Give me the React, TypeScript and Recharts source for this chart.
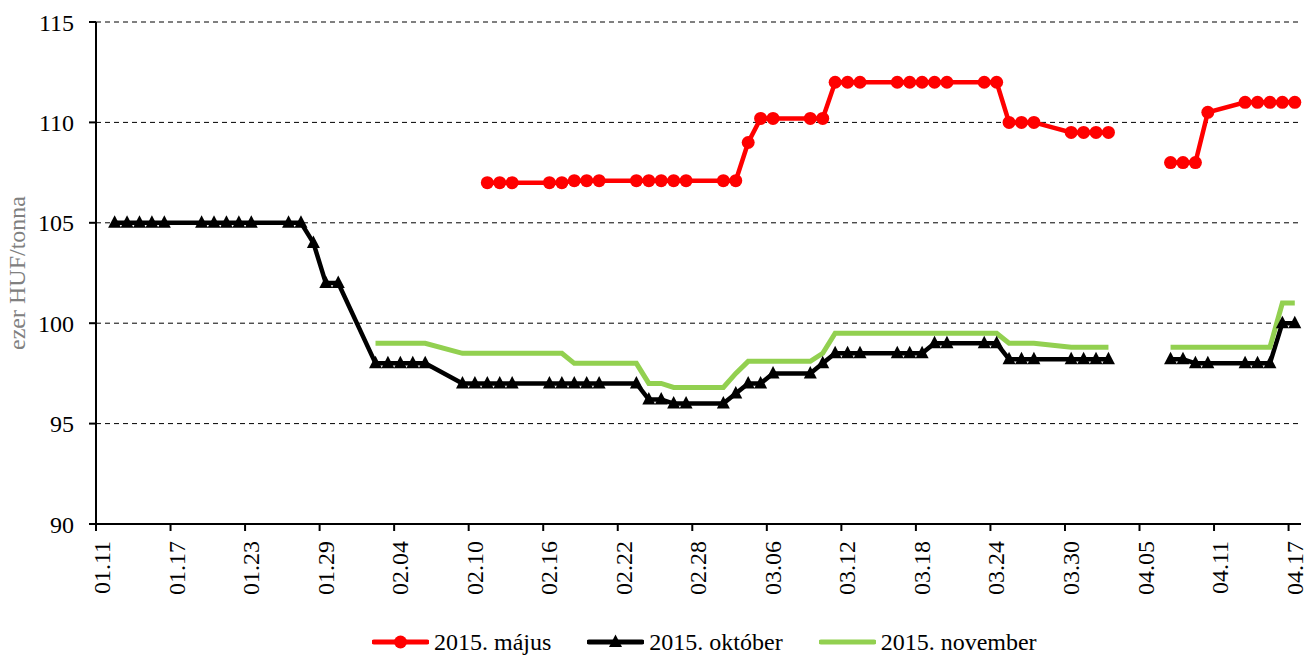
import React from 'react';
import { LineChart, Line, XAxis, YAxis, CartesianGrid, Legend } from 'recharts';

const FONT = '"Liberation Serif", "Times New Roman", serif';

// trading days (MM.DD) and their day offset from 01.11
const DATES = [
  '01.12', '01.13', '01.14', '01.15', '01.16',
  '01.19', '01.20', '01.21', '01.22', '01.23',
  '01.26', '01.27', '01.28', '01.29', '01.30',
  '02.02', '02.03', '02.04', '02.05', '02.06',
  '02.09', '02.10', '02.11', '02.12', '02.13',
  '02.16', '02.17', '02.18', '02.19', '02.20',
  '02.23', '02.24', '02.25', '02.26', '02.27',
  '03.02', '03.03', '03.04', '03.05', '03.06',
  '03.09', '03.10', '03.11', '03.12', '03.13',
  '03.16', '03.17', '03.18', '03.19', '03.20',
  '03.23', '03.24', '03.25', '03.26', '03.27',
  '03.30', '03.31', '04.01', '04.02', '04.03',
  '04.06',
  '04.07', '04.08', '04.09', '04.10',
  '04.13', '04.14', '04.15', '04.16', '04.17',
];
const DAYS = [
  1, 2, 3, 4, 5,
  8, 9, 10, 11, 12,
  15, 16, 17, 18, 19,
  22, 23, 24, 25, 26,
  29, 30, 31, 32, 33,
  36, 37, 38, 39, 40,
  43, 44, 45, 46, 47,
  50, 51, 52, 53, 54,
  57, 58, 59, 60, 61,
  64, 65, 66, 67, 68,
  71, 72, 73, 74, 75,
  78, 79, 80, 81, 82,
  85,
  86, 87, 88, 89,
  92, 93, 94, 95, 96,
];

const MAJUS = [
  null, null, null, null, null,
  null, null, null, null, null,
  null, null, null, null, null,
  null, null, null, null, null,
  null, null, 107, 107, 107,
  107, 107, 107.1, 107.1, 107.1,
  107.1, 107.1, 107.1, 107.1, 107.1,
  107.1, 107.1, 109, 110.2, 110.2,
  110.2, 110.2, 112, 112, 112,
  112, 112, 112, 112, 112,
  112, 112, 110, 110, 110,
  109.5, 109.5, 109.5, 109.5, null,
  null,
  108, 108, 108, 110.5,
  111, 111, 111, 111, 111,
];
const OKTOBER = [
  105, 105, 105, 105, 105,
  105, 105, 105, 105, 105,
  105, 105, 104, 102, 102,
  98, 98, 98, 98, 98,
  97, 97, 97, 97, 97,
  97, 97, 97, 97, 97,
  97, 96.2, 96.2, 96, 96,
  96, 96.5, 97, 97, 97.5,
  97.5, 98, 98.5, 98.5, 98.5,
  98.5, 98.5, 98.5, 99, 99,
  99, 99, 98.2, 98.2, 98.2,
  98.2, 98.2, 98.2, 98.2, null,
  null,
  98.2, 98.2, 98, 98,
  98, 98, 98, 100, 100,
];
const NOVEMBER = [
  null, null, null, null, null,
  null, null, null, null, null,
  null, null, null, null, null,
  99, 99, 99, 99, 99,
  98.5, 98.5, 98.5, 98.5, 98.5,
  98.5, 98.5, 98, 98, 98,
  98, 97, 97, 96.8, 96.8,
  96.8, 97.5, 98.1, 98.1, 98.1,
  98.1, 98.5, 99.5, 99.5, 99.5,
  99.5, 99.5, 99.5, 99.5, 99.5,
  99.5, 99.5, 99, 99, 99,
  98.8, 98.8, 98.8, 98.8, null,
  null,
  98.8, 98.8, 98.8, 98.8,
  98.8, 98.8, 98.8, 101, 101,
];

const TICK_DAYS = [0, 6, 12, 18, 24, 30, 36, 42, 48, 54, 60, 66, 72, 78, 84, 90, 96];
const TICK_LABELS = [
  '01.11', '01.17', '01.23', '01.29', '02.04', '02.10', '02.16', '02.22', '02.28',
  '03.06', '03.12', '03.18', '03.24', '03.30', '04.05', '04.11', '04.17',
];
const Y_TICKS = [90, 95, 100, 105, 110, 115];

const SERIES = [
  { key: 'majus', name: '2015. május', color: '#FF0000', marker: 'circle' },
  { key: 'oktober', name: '2015. október', color: '#000000', marker: 'triangle' },
  { key: 'november', name: '2015. november', color: '#92D050', marker: 'none' },
];

// points sit in the middle of their day
const data = DATES.map((date, i) => ({
  date,
  x: DAYS[i] + 0.5,
  majus: MAJUS[i],
  oktober: OKTOBER[i],
  november: NOVEMBER[i],
}));

const CircleDot = (props: any) => {
  const { cx, cy, index } = props;
  if (cx == null || cy == null || props.value == null) return <g key={`c-${index}`} />;
  return <circle key={`c-${index}`} cx={cx} cy={cy} r={6.5} fill="#FF0000" />;
};

const TriangleDot = (props: any) => {
  const { cx, cy, index } = props;
  if (cx == null || cy == null || props.value == null) return <g key={`t-${index}`} />;
  return (
    <path
      key={`t-${index}`}
      d={`M${cx},${cy - 7.5} L${cx + 6.5},${cy + 5} L${cx - 6.5},${cy + 5} Z`}
      fill="#000"
    />
  );
};

const XTick = (props: any) => {
  const { x, y, payload } = props;
  const i = TICK_DAYS.indexOf(payload.value);
  return (
    <text
      transform={`translate(${x + 14},${y}) rotate(-90)`}
      textAnchor="end"
      fontSize={24}
      fontFamily={FONT}
      fill="#000"
    >
      {TICK_LABELS[i]}
    </text>
  );
};

const YLabel = () => (
  <text
    transform="translate(25,273) rotate(-90)"
    textAnchor="middle"
    fontSize={24}
    fontFamily={FONT}
    fill="#808080"
  >
    ezer HUF/tonna
  </text>
);

const LegendIcon = ({ color, marker }: { color: string; marker: string }) => (
  <svg width={57} height={16} style={{ display: 'block' }}>
    <line x1={2} y1={8} x2={55} y2={8} stroke={color} strokeWidth={5} strokeLinecap="round" />
    {marker === 'circle' && <circle cx={28.5} cy={8} r={6.5} fill={color} />}
    {marker === 'triangle' && <path d="M28.5,0.5 L35,13 L22,13 Z" fill={color} />}
  </svg>
);

const renderLegend = () => (
  <div
    style={{
      display: 'flex',
      alignItems: 'center',
      height: 30,
      paddingLeft: 372,
      fontFamily: FONT,
      fontSize: 24,
      color: '#000',
    }}
  >
    {SERIES.map((s) => (
      <div key={s.key} style={{ display: 'flex', alignItems: 'center', marginRight: 36 }}>
        <LegendIcon color={s.color} marker={s.marker} />
        <span style={{ marginLeft: 5, whiteSpace: 'nowrap' }}>{s.name}</span>
      </div>
    ))}
  </div>
);

export default function App() {
  return (
    <div style={{ position: 'absolute', left: 0, top: 0, width: 1307, height: 657, background: '#fff' }}>
      <LineChart width={1307} height={657} data={data} margin={{ top: 22, right: 6, left: 0, bottom: 0 }}>
        <CartesianGrid vertical={false} stroke="#000" strokeWidth={1} strokeDasharray="5 4" />
        <XAxis
          dataKey="x"
          type="number"
          domain={[0, 97]}
          ticks={TICK_DAYS}
          interval={0}
          height={103}
          axisLine={{ stroke: '#000', strokeWidth: 2 }}
          tickLine={{ stroke: '#000', strokeWidth: 2 }}
          tickSize={7}
          tickMargin={10}
          tick={<XTick />}
        />
        <YAxis
          domain={[90, 115]}
          ticks={Y_TICKS}
          interval={0}
          width={96}
          axisLine={{ stroke: '#000', strokeWidth: 2 }}
          tickLine={{ stroke: '#000', strokeWidth: 2 }}
          tickSize={7}
          tickMargin={15}
          tick={{ fontSize: 24, fontFamily: FONT, fill: '#000' }}
          label={{ content: YLabel }}
        />
        <Legend verticalAlign="bottom" content={renderLegend} wrapperStyle={{ left: 0, width: 1307, bottom: 0 }} />
        <Line
          dataKey="majus"
          name="2015. május"
          stroke="#FF0000"
          strokeWidth={4.5}
          dot={CircleDot}
          activeDot={false}
          isAnimationActive={false}
        />
        <Line
          dataKey="oktober"
          name="2015. október"
          stroke="#000000"
          strokeWidth={4.5}
          dot={TriangleDot}
          activeDot={false}
          isAnimationActive={false}
        />
        <Line
          dataKey="november"
          name="2015. november"
          stroke="#92D050"
          strokeWidth={5}
          dot={false}
          activeDot={false}
          isAnimationActive={false}
        />
      </LineChart>
    </div>
  );
}
